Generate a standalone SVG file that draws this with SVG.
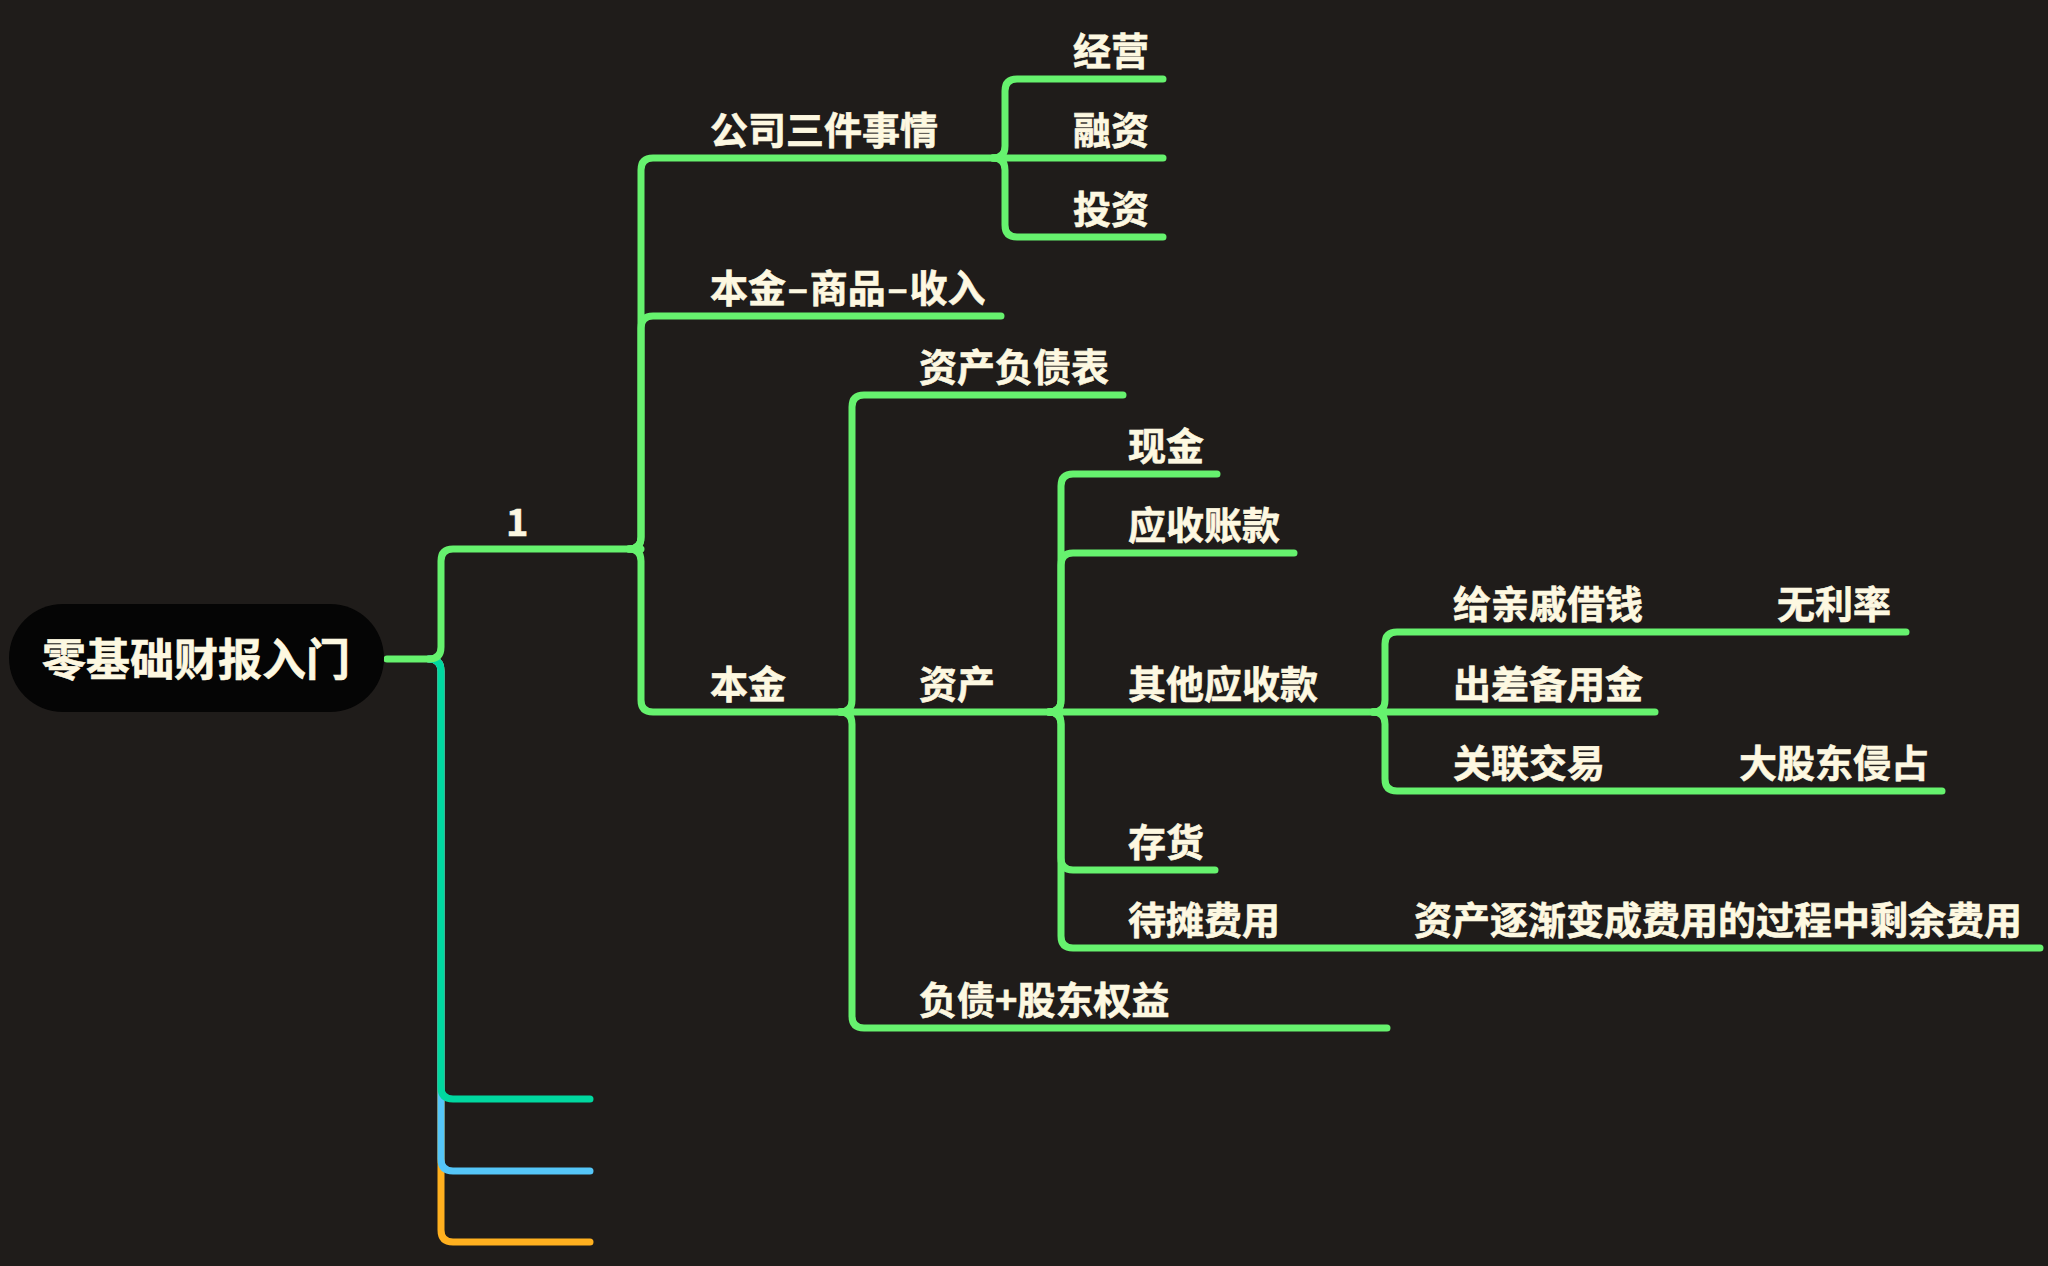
<svg xmlns="http://www.w3.org/2000/svg" width="2048" height="1266" viewBox="0 0 2048 1266">
  <style>
    .bg { fill: #1f1c1a; }
    .ln { fill: none; stroke-width: 7; stroke-linecap: round; stroke-linejoin: round; }
    .g { stroke: #66f26e; }
    .t { stroke: #00d8a0; }
    .b { stroke: #55c6f8; }
    .o { stroke: #ffb01f; }
    .lbl { font-family: "Noto Sans CJK SC", "Noto Sans", sans-serif; font-weight: 700; font-size: 38px; fill: #fdf8e1; stroke: #fdf8e1; stroke-width: 0.6; }
    .root { font-size: 44px; text-anchor: middle; }
  </style>
  <rect class="bg" x="0" y="0" width="2048" height="1266"/>

  <g id="connectors">
    <!-- empty lower branches of the root -->
    <path class="ln o" d="M 429 659 Q 441 659 441 671 L 441 1230 Q 441 1242 453 1242 L 590 1242"/>
    <path class="ln b" d="M 429 659 Q 441 659 441 671 L 441 1159 Q 441 1171 453 1171 L 590 1171"/>
    <path class="ln t" d="M 429 659 Q 441 659 441 671 L 441 1087 Q 441 1099 453 1099 L 590 1099"/>
    <!-- root to "1" -->
    <path class="ln g" d="M 387 659 L 429 659 Q 441 659 441 647 L 441 561 Q 441 549 453 549 L 641 549"/>
    <!-- "1" children -->
    <path class="ln g" d="M 629 549 Q 641 549 641 537 L 641 170 Q 641 158 653 158 L 1005 158"/>
    <path class="ln g" d="M 629 549 Q 641 549 641 537 L 641 328 Q 641 316 653 316 L 1001 316"/>
    <path class="ln g" d="M 629 549 Q 641 549 641 561 L 641 700 Q 641 712 653 712 L 852 712"/>
    <!-- 公司三件事情 children -->
    <path class="ln g" d="M 993 158 Q 1005 158 1005 146 L 1005 91 Q 1005 79 1017 79 L 1163 79"/>
    <path class="ln g" d="M 993 158 L 1163 158"/>
    <path class="ln g" d="M 993 158 Q 1005 158 1005 170 L 1005 225 Q 1005 237 1017 237 L 1163 237"/>
    <!-- 本金 children -->
    <path class="ln g" d="M 840 712 Q 852 712 852 700 L 852 407 Q 852 395 864 395 L 1123 395"/>
    <path class="ln g" d="M 840 712 L 1061 712"/>
    <path class="ln g" d="M 840 712 Q 852 712 852 724 L 852 1016 Q 852 1028 864 1028 L 1387 1028"/>
    <!-- 资产 children -->
    <path class="ln g" d="M 1049 712 Q 1061 712 1061 700 L 1061 486 Q 1061 474 1073 474 L 1217 474"/>
    <path class="ln g" d="M 1049 712 Q 1061 712 1061 700 L 1061 565 Q 1061 553 1073 553 L 1294 553"/>
    <path class="ln g" d="M 1049 712 L 1385 712"/>
    <path class="ln g" d="M 1049 712 Q 1061 712 1061 724 L 1061 858 Q 1061 870 1073 870 L 1215 870"/>
    <path class="ln g" d="M 1049 712 Q 1061 712 1061 724 L 1061 936 Q 1061 948 1073 948 L 2040 948"/>
    <!-- 其他应收款 children -->
    <path class="ln g" d="M 1373 712 Q 1385 712 1385 700 L 1385 644 Q 1385 632 1397 632 L 1906 632"/>
    <path class="ln g" d="M 1373 712 L 1655 712"/>
    <path class="ln g" d="M 1373 712 Q 1385 712 1385 724 L 1385 779 Q 1385 791 1397 791 L 1942 791"/>
  </g>

  <g id="root">
    <rect x="9" y="604" width="375" height="108" rx="54" fill="#050505"/>
    <text class="lbl root" x="196" y="676">零基础财报入门</text>
  </g>
  <g id="n1"><text class="lbl" x="506" y="536" font-size="36">1</text></g>
  <g id="n-three"><text class="lbl" x="710" y="144">公司三件事情</text></g>
  <g id="n-jy"><text class="lbl" x="1073" y="65">经营</text></g>
  <g id="n-rz"><text class="lbl" x="1073" y="144">融资</text></g>
  <g id="n-tz"><text class="lbl" x="1073" y="223">投资</text></g>
  <g id="n-cycle"><text class="lbl" x="710" y="302">本金<tspan dx="1.5">–</tspan><tspan dx="1.5">商品</tspan><tspan dx="1.5">–</tspan><tspan dx="1.5">收入</tspan></text></g>
  <g id="n-bj"><text class="lbl" x="710" y="698">本金</text></g>
  <g id="n-bs"><text class="lbl" x="919" y="381">资产负债表</text></g>
  <g id="n-zc"><text class="lbl" x="919" y="698">资产</text></g>
  <g id="n-fz"><text class="lbl" x="919" y="1014">负债+股东权益</text></g>
  <g id="n-xj"><text class="lbl" x="1128" y="460">现金</text></g>
  <g id="n-yszk"><text class="lbl" x="1128" y="539">应收账款</text></g>
  <g id="n-qt"><text class="lbl" x="1128" y="698">其他应收款</text></g>
  <g id="n-ch"><text class="lbl" x="1128" y="856">存货</text></g>
  <g id="n-dt"><text class="lbl" x="1128" y="934">待摊费用</text></g>
  <g id="n-dt-note"><text class="lbl" x="1414" y="934">资产逐渐变成费用的过程中剩余费用</text></g>
  <g id="n-jq"><text class="lbl" x="1453" y="618">给亲戚借钱</text></g>
  <g id="n-wll"><text class="lbl" x="1777" y="618">无利率</text></g>
  <g id="n-cc"><text class="lbl" x="1453" y="698">出差备用金</text></g>
  <g id="n-gl"><text class="lbl" x="1453" y="777">关联交易</text></g>
  <g id="n-dgd"><text class="lbl" x="1739" y="777">大股东侵占</text></g>
</svg>
